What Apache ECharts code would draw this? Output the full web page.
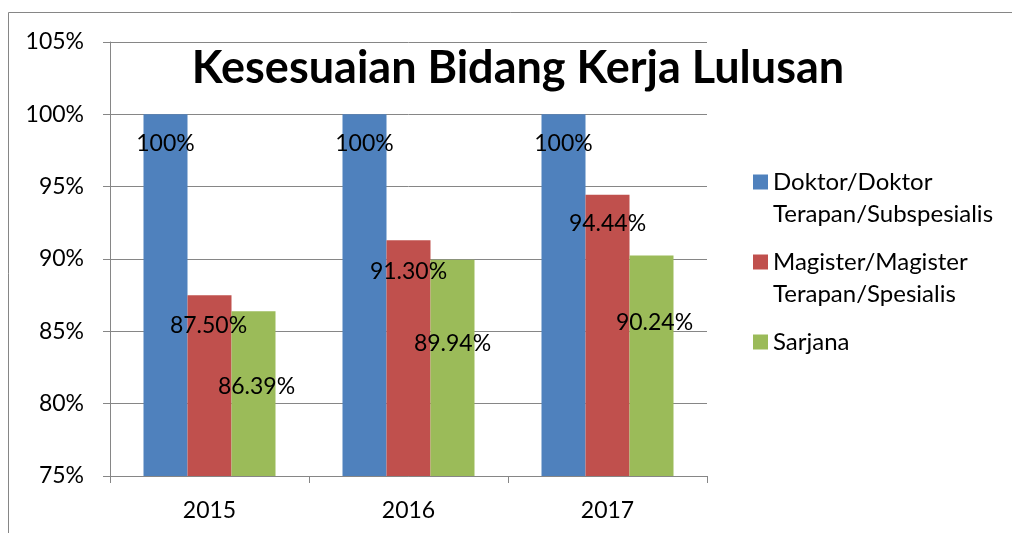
<!DOCTYPE html>
<html>
<head>
<meta charset="utf-8">
<script src="https://cdn.jsdelivr.net/npm/echarts@6/dist/echarts.min.js"></script>
<style>
  html, body { margin: 0; padding: 0; background: #fff; }
  #chart { width: 1012px; height: 533px; }
</style>
</head>
<body>
<div id="chart"></div>
<script>
// data
var years = ["2015", "2016", "2017"];
var seriesNames = [
  "Doktor/Doktor\nTerapan/Subspesialis",
  "Magister/Magister\nTerapan/Spesialis",
  "Sarjana"
];
var doktor = [100, 100, 100];
var magister = [87.5, 91.3, 94.44];
var sarjana = [86.39, 89.94, 90.24];
var yTicks = { min: 75, max: 105, step: 5 };

var colors = ["#4F81BD", "#C0504D", "#9BBB59"];
var font = "Lato, 'Open Sans', sans-serif";

// label placement in the source chart was moved by hand, [dx, dy from bar top]
var labelShift = [
  [[0, 29], [0, 29], [0, 29]],
  [[-1, 30], [0, 31], [0, 29]],
  [[3, 75], [0, 84], [3, 67]]
];

function fmt(v) {
  return v === 100 ? "100%" : v.toFixed(2) + "%";
}

function makeSeries(idx, values) {
  return {
    name: seriesNames[idx],
    type: "bar",
    barWidth: 44,
    barGap: "0%",
    itemStyle: { color: colors[idx] },
    data: values.map(function (v, i) {
      var s = labelShift[idx][i];
      return {
        value: v,
        label: {
          show: true,
          position: ["50%", s[1]],
          offset: [s[0], 0],
          align: "center",
          verticalAlign: "middle",
          formatter: function (p) { return fmt(p.value); },
          color: "#000",
          fontSize: 23,
          fontFamily: font
        }
      };
    })
  };
}

var chart = echarts.init(document.getElementById("chart"));
chart.setOption({
  animation: false,
  backgroundColor: "#fff",
  graphic: [
    {
      type: "rect",
      shape: { x: 8.5, y: 12.5, width: 1100, height: 600 },
      style: { fill: "none", stroke: "#868686", lineWidth: 1 },
      z: -1
    }
  ],
  title: {
    text: "Kesesuaian Bidang Kerja Lulusan",
    left: 513,
    textAlign: "center",
    top: 41,
    textStyle: { fontFamily: font, fontWeight: "bold", fontSize: 45, color: "#000" }
  },
  legend: {
    orient: "vertical",
    left: 748,
    top: 129,
    itemWidth: 15,
    itemHeight: 15,
    itemGap: -16,
    icon: "rect",
    // blank lines around the name keep the marker level with its first line
    formatter: function (name) {
      return name.indexOf("\n") >= 0 ? "\n" + name : "\n" + name + "\n";
    },
    textStyle: { fontFamily: font, fontSize: 24, color: "#000", lineHeight: 32 }
  },
  grid: { left: 110, right: 305, top: 42, bottom: 57, containLabel: false },
  xAxis: {
    type: "category",
    data: years,
    axisLine: { lineStyle: { color: "#868686", width: 1 } },
    axisTick: { show: true, length: 7, lineStyle: { color: "#868686" } },
    axisLabel: { color: "#000", fontSize: 23, fontFamily: font, margin: 23 }
  },
  yAxis: {
    type: "value",
    min: yTicks.min,
    max: yTicks.max,
    interval: yTicks.step,
    axisLine: { show: true, lineStyle: { color: "#868686", width: 1 } },
    axisTick: { show: true, length: 7, lineStyle: { color: "#868686" } },
    splitLine: { lineStyle: { color: "#868686", width: 1 } },
    axisLabel: {
      color: "#000",
      fontSize: 23,
      fontFamily: font,
      margin: 26,
      formatter: "{value}%"
    }
  },
  series: [
    makeSeries(0, doktor),
    makeSeries(1, magister),
    makeSeries(2, sarjana)
  ]
});
</script>
</body>
</html>
